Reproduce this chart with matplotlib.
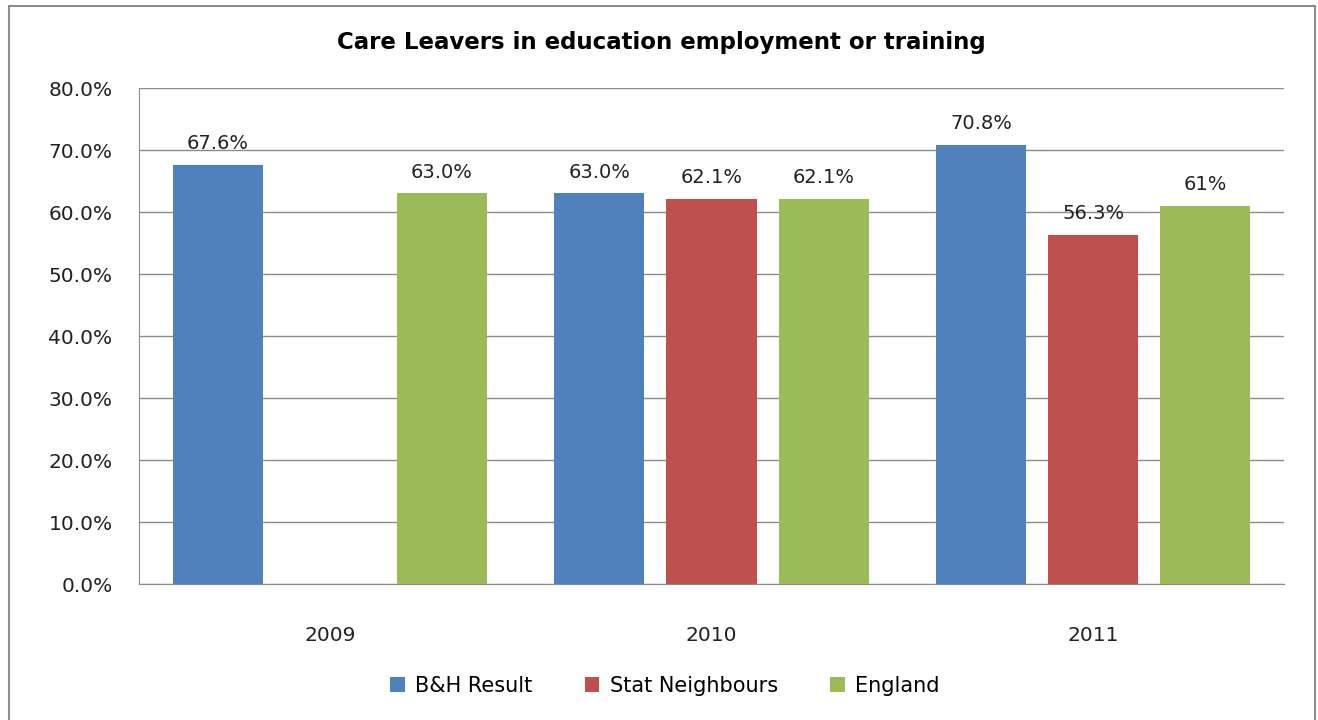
import matplotlib.pyplot as plt
import numpy as np
from matplotlib.patches import Rectangle

# data
years = ['2009', '2010', '2011']
bh_result = [67.6, 63.0, 70.8]
stat_neighbours = [np.nan, 62.1, 56.3]
england = [63.0, 62.1, 61.0]
bh_labels = ['67.6%', '63.0%', '70.8%']
sn_labels = ['', '62.1%', '56.3%']
eng_labels = ['63.0%', '62.1%', '61%']
series_names = ['B&H Result', 'Stat Neighbours', 'England']
colors = ['#4F81BD', '#C0504D', '#9BBB59']

plt.rcParams['font.family'] = ['DejaVu Sans']

fig = plt.figure(figsize=(13.18, 7.2), dpi=100)
ax = fig.add_axes([139/1318, 1 - 584/720, (1284 - 139)/1318, (584 - 88)/720])

x = np.arange(len(years))
pitch = 0.294
width = 0.236
series = [bh_result, stat_neighbours, england]
labels = [bh_labels, sn_labels, eng_labels]

for i, (vals, labs) in enumerate(zip(series, labels)):
    pos = x + (i - 1) * pitch
    ax.bar(pos, vals, width, color=colors[i], label=series_names[i], zorder=3)
    for p, v, t in zip(pos, vals, labs):
        if not np.isnan(v) and t:
            ax.text(p, v + 1.9, t, ha='center', va='bottom', fontsize=14, color='#222222')

ax.set_xlim(-0.5, 2.5)
ax.set_ylim(0, 80)
ax.set_yticks(np.arange(0, 81, 10))
ax.set_yticklabels(['%.1f%%' % v for v in np.arange(0, 81, 10)], fontsize=14.5)
ax.set_xticks(x)
ax.set_xticklabels(years, fontsize=14.5)
ax.tick_params(axis='both', length=0, colors='#222222')
ax.tick_params(axis='y', pad=19)
ax.tick_params(axis='x', pad=30)
ax.grid(axis='y', color='#8c8c8c', linewidth=1.0, zorder=0)
ax.spines['top'].set_visible(False)
ax.spines['right'].set_visible(False)
ax.spines['left'].set_color('#8c8c8c')
ax.spines['bottom'].set_color('#8c8c8c')

fig.text(0.5015, 1 - 42/720, 'Care Leavers in education employment or training',
         ha='center', va='center', fontsize=16.5, fontweight='bold')

fig.legend(loc='center', bbox_to_anchor=(665/1318, 1 - 686/720), ncol=3,
           frameon=False, fontsize=15, handlelength=0.7, handleheight=0.7,
           columnspacing=2.5, handletextpad=0.5)

fig.add_artist(Rectangle((9/1318, -0.05), (1315 - 9)/1318, 1.05 - 6/720,
                         transform=fig.transFigure, fill=False,
                         edgecolor='#8c8c8c', linewidth=1.5))

fig.savefig('out.png', dpi=100)
